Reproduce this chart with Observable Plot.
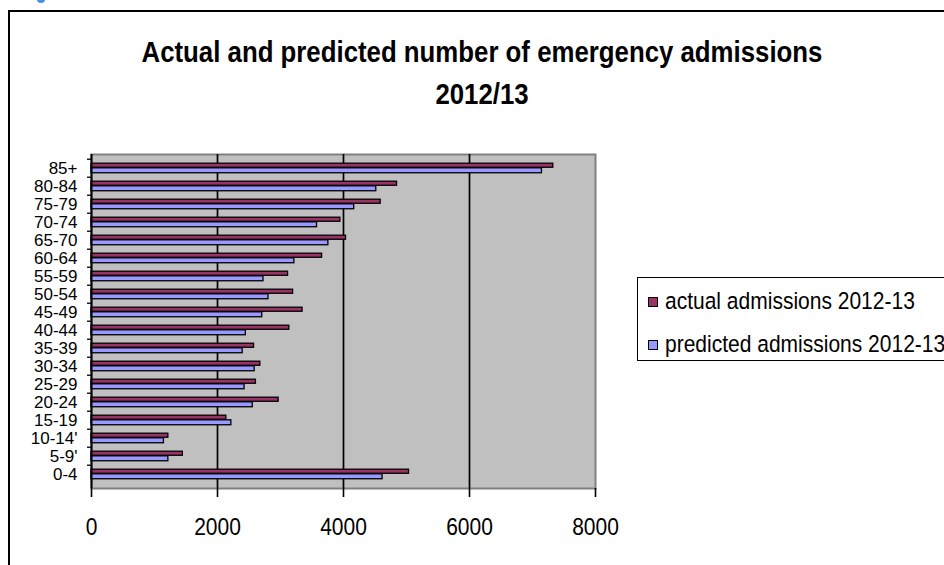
<!DOCTYPE html>
<html>
<head>
<meta charset="utf-8">
<script src="https://cdn.jsdelivr.net/npm/d3@7"></script>
<script src="https://cdn.jsdelivr.net/npm/@observablehq/plot@0.6"></script>
<style>
  html, body { margin: 0; padding: 0; background: #fff; overflow: hidden; }
  body { width: 944px; height: 565px; position: relative; font-family: "Liberation Sans", Arial, sans-serif; }
  #frame { position: absolute; left: 8px; top: 10px; width: 1000px; height: 620px; border: 2px solid #000; box-sizing: border-box; }
  #blip { position: absolute; left: 37px; top: -4px; width: 8px; height: 7px; border-radius: 50%; background: #4a8fe0; }
  .title { position: absolute; left: 0; width: 964px; text-align: center; font-weight: bold; font-size: 25.8px; line-height: 26px; color: #000; white-space: nowrap; transform: scaleY(1.12); transform-origin: 50% 22px; }
  #chart { position: absolute; left: 0; top: 0; }
  #legend { position: absolute; left: 637px; top: 277px; width: 340px; height: 84px; border: 1px solid #000; box-sizing: border-box; background: #fff; }
  .item { position: absolute; left: 10px; font-size: 21px; line-height: 21px; white-space: nowrap; color: #000; }
  .txt { display: inline-block; transform: scaleY(1.12); transform-origin: 0 17px; }
  .sw { display: inline-block; width: 8px; height: 8px; border: 1px solid #000; margin-right: 7px; vertical-align: 2px; }
</style>
</head>
<body>
<div id="blip"></div>
<div id="frame"></div>
<div class="title" id="t1"></div>
<div class="title" id="t2"></div>
<div id="chart"></div>
<div id="legend"></div>
<script>
// ---- data ----
const titleLines = ["Actual and predicted number of emergency admissions", "2012/13"];
const ageGroups = ["0-4", "5-9'", "10-14'", "15-19", "20-24", "25-29", "30-34", "35-39", "40-44", "45-49", "50-54", "55-59", "60-64", "65-70", "70-74", "75-79", "80-84", "85+"];
const actualAdmissions = [5040, 1450, 1220, 2140, 2970, 2610, 2680, 2580, 3140, 3350, 3200, 3120, 3660, 4040, 3950, 4590, 4850, 7330];
const predictedAdmissions = [4620, 1220, 1150, 2220, 2560, 2430, 2590, 2400, 2450, 2710, 2810, 2730, 3220, 3760, 3580, 4170, 4520, 7150];
const seriesNames = ["actual admissions 2012-13", "predicted admissions 2012-13"];
const seriesColors = ["#993366", "#9999ff"];
const xTicks = [0, 2000, 4000, 6000, 8000];
const gridValues = [2000, 4000, 6000];

// ---- build ----
document.getElementById("t1").textContent = titleLines[0];
document.getElementById("t1").style.top = "40px";
document.getElementById("t2").textContent = titleLines[1];
document.getElementById("t2").style.top = "82px";

const actualRows = ageGroups.map((age, i) => ({age, value: actualAdmissions[i]}));
const predictedRows = ageGroups.map((age, i) => ({age, value: predictedAdmissions[i]}));
const yDomain = ageGroups.slice().reverse();

const W = 944, H = 565;
const mL = 91, mR = 349, mT = 154, mB = 77;
const band = (H - mT - mB) / ageGroups.length;

const chart = Plot.plot({
  width: W, height: H,
  marginLeft: mL, marginRight: mR, marginTop: mT, marginBottom: mB,
  style: {fontFamily: '"Liberation Sans", Arial, sans-serif', background: "transparent", color: "#000", overflow: "visible"},
  x: {domain: [0, 8000]},
  y: {domain: yDomain, padding: 0},
  marks: [
    Plot.frame({fill: "#c0c0c0", stroke: "#808080", strokeWidth: 2}),
    Plot.ruleX(gridValues, {stroke: "#000", strokeWidth: 1.7}),
    Plot.barX(actualRows, {x: "value", y: "age", fill: seriesColors[0], stroke: "#000", strokeWidth: 1.3, insetTop: band * 0.226, insetBottom: band * 0.525}),
    Plot.barX(predictedRows, {x: "value", y: "age", fill: seriesColors[1], stroke: "#000", strokeWidth: 1.3, insetTop: band * 0.475, insetBottom: band * 0.229}),
    Plot.ruleX([0], {stroke: "#000", strokeWidth: 2}),
    Plot.axisX(xTicks, {tickSize: 9, tickPadding: 21, line: true, strokeWidth: 1.6, fontSize: 21, label: null, tickFormat: d => String(d)}),
    Plot.axisY({tickSize: 0, tickPadding: 14, fontSize: 17, label: null, dy: 0.5}),
    Plot.axisY({tickSize: 4, tickPadding: 0, strokeWidth: 1.3, label: null, tickFormat: () => "", dy: -band / 2})
  ]
});
document.getElementById("chart").appendChild(chart);

// stretch x-axis tick text vertically (the original uses a tall, narrow-looking face)
function stretchTexts(sel, k) {
  chart.querySelectorAll(sel).forEach(t => {
    const tr = t.getAttribute("transform");
    if (tr) {
      t.setAttribute("transform", tr + ` scale(1,${k})`);
    } else {
      const x = +t.getAttribute("x") || 0, y = +t.getAttribute("y") || 0;
      t.removeAttribute("x"); t.removeAttribute("y");
      t.setAttribute("transform", `translate(${x},${y}) scale(1,${k})`);
    }
  });
}
stretchTexts("g[aria-label='x-axis tick label'] text", 1.12);

// legend
const legend = document.getElementById("legend");
seriesNames.forEach((name, i) => {
  const item = document.createElement("div");
  item.className = "item";
  item.style.top = (i === 0 ? 13 : 56) + "px";
  const sw = document.createElement("span");
  sw.className = "sw";
  sw.style.background = seriesColors[i];
  item.appendChild(sw);
  const tx = document.createElement("span");
  tx.className = "txt";
  tx.textContent = name;
  item.appendChild(tx);
  legend.appendChild(item);
});
</script>
</body>
</html>
